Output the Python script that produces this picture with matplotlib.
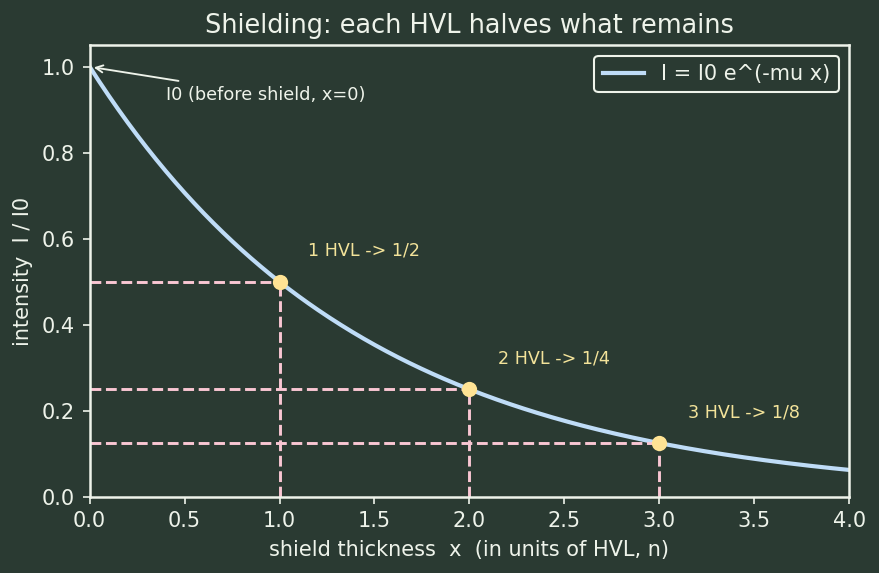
import numpy as np
import matplotlib
matplotlib.use("Agg")
import matplotlib.pyplot as plt

# data
n_hvl = [1, 2, 3]
frac_left = [0.5, 0.25, 0.125]
hvl_labels = ["1 HVL -> 1/2", "2 HVL -> 1/4", "3 HVL -> 1/8"]
x_max = 4.0

bg = "#2a3a32"
fg = "#eef3ea"
curve_col = "#bfdcf7"
dot_col = "#ffe394"
dash_col = "#f9c6d3"
label_col = "#f3e39a"

x = np.linspace(0, x_max, 400)
intensity = 0.5 ** x

fig, ax = plt.subplots(figsize=(5.86, 3.82), dpi=150)
fig.patch.set_facecolor(bg)
ax.set_facecolor(bg)

ax.plot(x, intensity, color=curve_col, lw=2, label="I = I0 e^(-mu x)")

for n, f, lab in zip(n_hvl, frac_left, hvl_labels):
    ax.plot([0, n], [f, f], color=dash_col, lw=1.4, ls="--")
    ax.plot([n, n], [0, f], color=dash_col, lw=1.4, ls="--")
    ax.scatter([n], [f], color=dot_col, s=40, zorder=5)
    ax.text(n + 0.15, f + 0.072, lab, color=label_col, fontsize=8.4, va="center")

ax.annotate("I0 (before shield, x=0)", xy=(0, 1.0), xytext=(0.4, 0.935),
            color=fg, fontsize=8.5, va="center",
            arrowprops=dict(arrowstyle="->", color=fg, lw=0.9))

ax.set_xlim(0, x_max)
ax.set_ylim(0, 1.05)
ax.set_xticks(np.arange(0, 4.01, 0.5))
ax.set_yticks(np.arange(0, 1.01, 0.2))
ax.set_xlabel("shield thickness  x  (in units of HVL, n)", color=fg, fontsize=10)
ax.set_ylabel("intensity  I / I0", color=fg, fontsize=10)
ax.set_title("Shielding: each HVL halves what remains", color=fg, fontsize=12.3)
ax.tick_params(colors=fg, labelsize=10)
for s in ax.spines.values():
    s.set_color(fg)
    s.set_linewidth(1.2)

leg = ax.legend(loc="upper right", fontsize=10, facecolor=bg, edgecolor=fg,
                labelcolor=fg, framealpha=1)

fig.subplots_adjust(left=0.102, right=0.966, top=0.921, bottom=0.133)
fig.savefig("out.png", facecolor=bg)
